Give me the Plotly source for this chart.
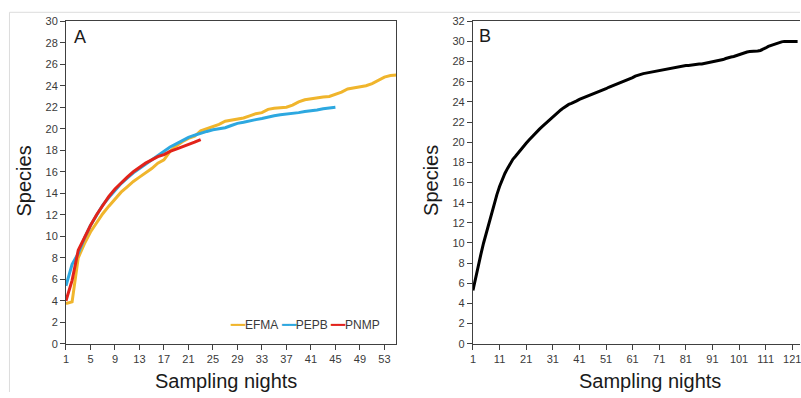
import plotly.graph_objects as go

# ---------------- data ----------------
nights_a_efma = list(range(1, 56))
efma = [3.75, 3.9, 8.0, 9.3, 10.4, 11.3, 12.1, 12.8, 13.5, 14.1,
        14.6, 15.1, 15.5, 15.9, 16.3, 16.8, 17.1, 17.9, 18.4, 18.8,
        19.1, 19.3, 19.8, 20.0, 20.2, 20.4, 20.7, 20.8, 20.9, 21.0,
        21.2, 21.4, 21.5, 21.8, 21.9, 21.95, 22.0, 22.2, 22.5, 22.7,
        22.8, 22.9, 22.95, 23.0, 23.2, 23.4, 23.7, 23.8, 23.85, 24.0,
        24.2, 24.5, 24.8, 24.95, 25.0]

nights_a_pepb = list(range(1, 46))
pepb = [5.4, 7.4, 8.4, 9.8, 11.0, 12.0, 12.9, 13.6, 14.3, 14.9,
        15.4, 15.9, 16.3, 16.7, 17.1, 17.5, 17.9, 18.3, 18.6, 18.9,
        19.2, 19.4, 19.6, 19.75, 19.9, 20.0, 20.1, 20.3, 20.5, 20.6,
        20.75, 20.85, 20.95, 21.1, 21.2, 21.3, 21.35, 21.45, 21.5, 21.6,
        21.65, 21.75, 21.85, 21.95, 22.0]

nights_a_pnmp = list(range(1, 24))
pnmp = [4.0, 5.9, 8.7, 9.9, 11.0, 12.0, 12.9, 13.7, 14.4, 15.0,
        15.5, 16.0, 16.4, 16.8, 17.1, 17.4, 17.6, 17.9, 18.1, 18.3,
        18.5, 18.75, 19.0]

nights_b = list(range(1, 124))
total_b = [5.3, 6.6, 7.8, 8.9, 10.0, 11.0, 12.0, 12.9, 13.8, 14.8,
           15.6, 16.3, 16.9, 17.4, 17.9, 18.3, 18.6, 18.95, 19.3, 19.6,
           19.9, 20.2, 20.5, 20.8, 21.05, 21.3, 21.55, 21.8, 22.05, 22.3,
           22.55, 22.8, 23.0, 23.2, 23.4, 23.6, 23.75, 23.85, 23.95, 24.1,
           24.25, 24.35, 24.45, 24.6, 24.7, 24.8, 24.9, 25.0, 25.1, 25.2,
           25.3, 25.45, 25.55, 25.65, 25.75, 25.85, 25.95, 26.05, 26.15, 26.3,
           26.4, 26.55, 26.65, 26.7, 26.8, 26.85, 26.9, 27.0, 27.05, 27.1,
           27.15, 27.2, 27.25, 27.3, 27.35, 27.4, 27.45, 27.5, 27.5, 27.55,
           27.6, 27.6, 27.65, 27.7, 27.7, 27.75, 27.75, 27.8, 27.85, 27.9,
           27.95, 28.0, 28.05, 28.1, 28.2, 28.3, 28.4, 28.45, 28.5, 28.6,
           28.7, 28.8, 28.9, 28.95, 29.0, 29.0, 29.05, 29.05, 29.1, 29.2,
           29.35, 29.5, 29.6, 29.7, 29.8, 29.9, 29.95, 30.0, 30.0, 30.0,
           30.0, 30.0, 30.0]

xticks_a = list(range(1, 54, 4))
xticks_b = list(range(1, 122, 10))
yticks_a = list(range(0, 31, 2))
yticks_b = list(range(0, 33, 2))

series_names = ["EFMA", "PEPB", "PNMP"]
series_colors = ["#F0B52C", "#2DA8E0", "#E2231A"]

# ---------------- figure ----------------
W, H = 801, 398
FONT = "Arial, Liberation Sans, Helvetica, sans-serif"
AX = "#404040"

fig = go.Figure()
for name, xs, ys, col in zip(series_names,
                             [nights_a_efma, nights_a_pepb, nights_a_pnmp],
                             [efma, pepb, pnmp], series_colors):
    fig.add_trace(go.Scatter(x=xs, y=ys, mode="lines", name=name,
                             line=dict(color=col, width=3),
                             xaxis="x", yaxis="y", showlegend=False))

fig.add_trace(go.Scatter(x=nights_b, y=total_b, mode="lines", name="Total",
                         line=dict(color="black", width=3),
                         xaxis="x2", yaxis="y2", showlegend=False))


def px_x(p):
    return p / W


def px_y(p):
    return (H - p) / H


ydom = [px_y(348.3), px_y(15.7)]
common_ax = dict(showgrid=False, zeroline=False, showline=True, linecolor=AX,
                 linewidth=1, ticks="outside", ticklen=5, tickcolor=AX,
                 tickwidth=1, ticklabeloverflow="allow",
                 tickfont=dict(family=FONT, size=11, color="#3a3a3a"))

fig.update_layout(
    width=W, height=H, margin=dict(l=0, r=0, t=0, b=0),
    paper_bgcolor="white", plot_bgcolor="white",
    font=dict(family=FONT),
    xaxis=dict(domain=[px_x(63.3), px_x(395)], range=[1, 54.9],
               tickvals=xticks_a, mirror=True, anchor="y", **common_ax),
    yaxis=dict(domain=ydom, range=[0, 30], tickvals=yticks_a,
               mirror=True, anchor="x", **common_ax),
    xaxis2=dict(domain=[px_x(472.3), 1.0], range=[1, 123.9],
                tickvals=xticks_b, mirror=True, anchor="y2", **common_ax),
    yaxis2=dict(domain=ydom, range=[0, 32], tickvals=yticks_b,
                mirror=False, anchor="x2", **common_ax),
)

titles = [
    dict(text="Species", x=px_x(21), y=px_y(180), textangle=-90, size=20),
    dict(text="Species", x=px_x(429.5), y=px_y(180), textangle=-90, size=20),
    dict(text="Sampling nights", x=px_x(224), y=px_y(387), textangle=0, size=20),
    dict(text="Sampling nights", x=px_x(650), y=px_y(387), textangle=0, size=20),
    dict(text="A", x=px_x(77), y=px_y(31.5), textangle=0, size=18),
    dict(text="B", x=px_x(484), y=px_y(31), textangle=0, size=18),
]
for a in titles:
    fig.add_annotation(xref="paper", yref="paper", showarrow=False,
                       xanchor="center", yanchor="middle",
                       text=a["text"], x=a["x"], y=a["y"], textangle=a["textangle"],
                       font=dict(family=FONT, size=a["size"], color="#1a1a1a"))

legend_text = "&nbsp;".join(
    f"<span style='color:{c}'>━━</span>{n}" for n, c in zip(series_names, series_colors))
fig.add_annotation(xref="paper", yref="paper", showarrow=False,
                   x=px_x(381), y=px_y(329), xanchor="right", yanchor="middle",
                   text=legend_text,
                   font=dict(family=FONT, size=12, color="#3a3a3a"))

# light frame of the original image
fig.add_shape(type="line", xref="paper", yref="paper",
              x0=px_x(6.5), x1=1, y0=px_y(6.5), y1=px_y(6.5),
              line=dict(color="#dcdcdc", width=1))
fig.add_shape(type="line", xref="paper", yref="paper",
              x0=px_x(6.5), x1=px_x(6.5), y0=0, y1=px_y(6.5),
              line=dict(color="#dcdcdc", width=1))

# place the figure at the page origin so it fills the window exactly
fig.write_html("out.html",
               config={"displayModeBar": False},
               post_script="document.body.style.margin='0';"
                           "document.body.style.overflow='hidden';")
